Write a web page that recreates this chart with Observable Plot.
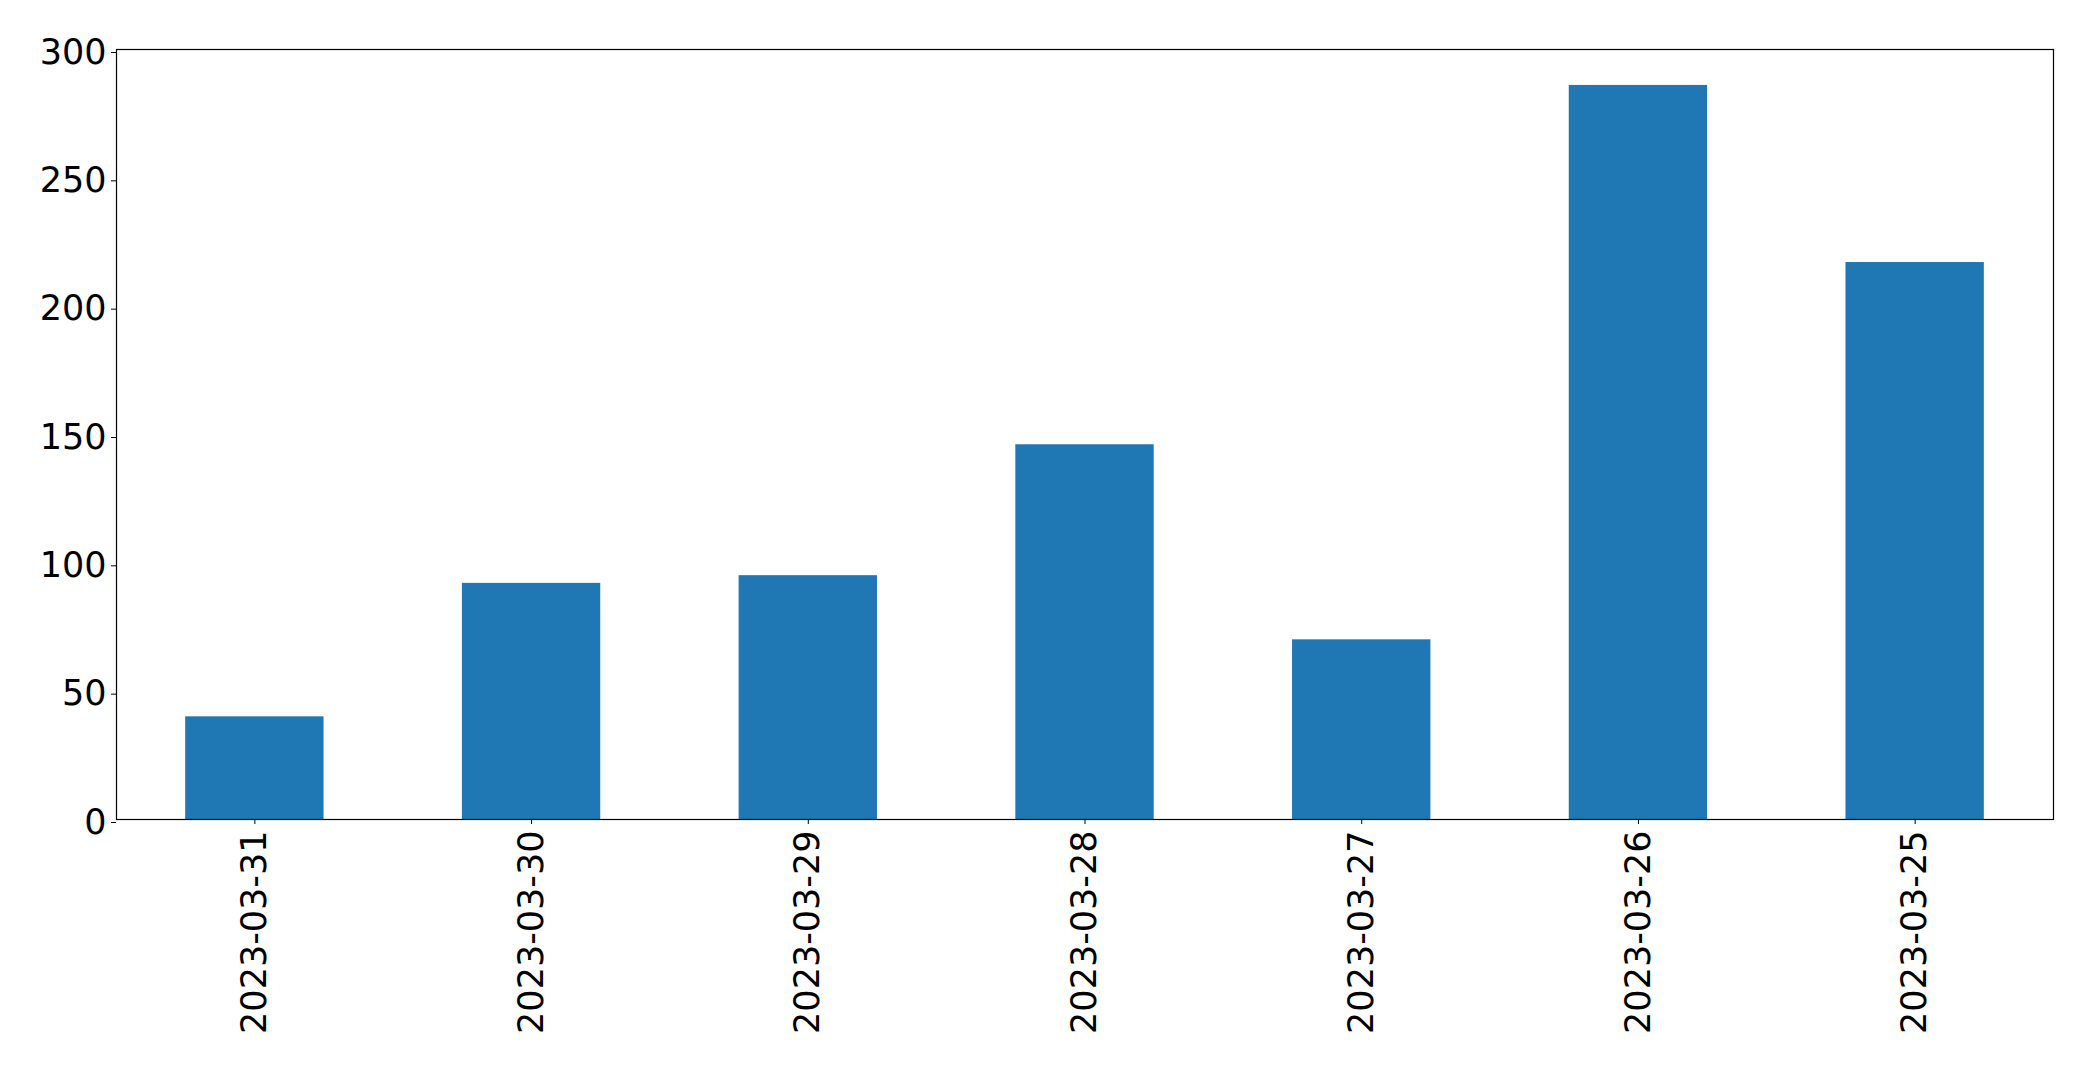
<!DOCTYPE html>
<html>
<head>
<meta charset="utf-8">
<script src="https://cdn.jsdelivr.net/npm/d3@7"></script>
<script src="https://cdn.jsdelivr.net/npm/@observablehq/plot@0.6"></script>
<style>
  html, body { margin: 0; padding: 0; background: #ffffff; }
  #chart svg { display: block; }
</style>
</head>
<body>
<div id="chart"></div>
<script>
const dates = ["2023-03-31", "2023-03-30", "2023-03-29", "2023-03-28", "2023-03-27", "2023-03-26", "2023-03-25"];
const counts = [40, 92, 95, 146, 70, 286, 217];
const yTicks = [0, 50, 100, 150, 200, 250, 300];

const data = dates.map((d, i) => ({date: d, value: counts[i]}));

const chart = Plot.plot({
  width: 2093,
  height: 1071,
  marginLeft: 116,
  marginRight: 40,
  marginTop: 49,
  marginBottom: 252,
  style: {fontFamily: "DejaVu Sans", fontSize: "35px", color: "#000", background: "#fff"},
  x: {type: "band", domain: dates, paddingInner: 0.5, paddingOuter: 0.25, align: 0.5, round: false, label: null},
  y: {domain: [0, 300], label: null},
  marks: [
    Plot.barY(data, {x: "date", y: "value", fill: "#1f77b4"}),
    Plot.frame({stroke: "#000", strokeWidth: 1.2}),
    Plot.axisY({ticks: yTicks, tickSize: 5, tickPadding: 5, label: null, fontSize: 35, dy: 3}),
    Plot.axisX({tickSize: 5, tickPadding: 6, tickRotate: -90, label: null, fontSize: 35})
  ]
});
document.getElementById("chart").appendChild(chart);
</script>
</body>
</html>
